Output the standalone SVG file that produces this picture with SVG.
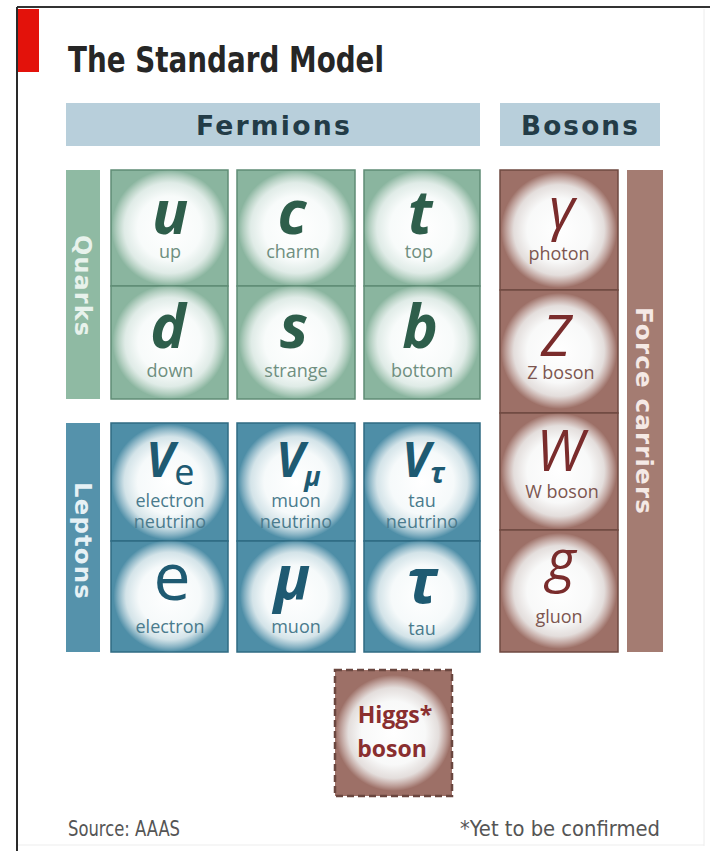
<svg xmlns="http://www.w3.org/2000/svg" width="710" height="851" viewBox="0 0 710 851">
<defs>
<radialGradient id="glow" cx="0.5" cy="0.5" r="0.5">
<stop offset="0" stop-color="#ffffff" stop-opacity="1"/>
<stop offset="0.55" stop-color="#fbfdfd" stop-opacity="0.97"/>
<stop offset="0.78" stop-color="#f5f9f9" stop-opacity="0.8"/>
<stop offset="0.92" stop-color="#ffffff" stop-opacity="0.3"/>
<stop offset="1" stop-color="#ffffff" stop-opacity="0"/>
</radialGradient>
<style>
.cond{font-family:"Liberation Sans Narrow","DejaVu Sans Condensed","Open Sans",sans-serif;font-stretch:condensed}
.title{font-size:36px;font-weight:bold;fill:#262626}
.hdr{font-size:27px;font-weight:bold;fill:#233c47;letter-spacing:2px}
.hbar{fill:#b8cfdb}
.side{font-size:23px;font-weight:bold;letter-spacing:1px}
.q{fill:#8ab59f;stroke:#5f8c75;stroke-width:1.5}
.l{fill:#4e8ea7;stroke:#2f6b83;stroke-width:1.5}
.b{fill:#9d7067;stroke:#6f4941;stroke-width:1.5}
.qbar{fill:#8fbaa3}
.lbar{fill:#5592ab}
.bbar{fill:#a47c72}
.sym{font-family:"Open Sans","DejaVu Sans",sans-serif;text-anchor:middle}
.qs{fill:#2e5e4b;font-size:60px;font-style:italic;font-weight:bold}
.ls{fill:#1e5a72;font-weight:bold;font-style:italic}
.bs{fill:#7a2c2c;font-style:italic;font-size:56px}
.lab{font-family:"Open Sans","DejaVu Sans",sans-serif;font-size:18px;text-anchor:middle}
.ql{fill:#6f8f80}
.ll{fill:#4a7b8d}
.bl{fill:#7d5650}
.foot{font-size:21px;fill:#555555}
</style>
</defs>
<rect width="710" height="851" fill="#ffffff"/>
<g id="frame">
<line x1="17" y1="7" x2="710" y2="7" stroke="#333333" stroke-width="2"/>
<line x1="17" y1="7" x2="17" y2="851" stroke="#2a2a2a" stroke-width="2"/>
<line x1="704" y1="9" x2="704" y2="846" stroke="#ececec" stroke-width="1"/>
<line x1="18" y1="845" x2="704" y2="845" stroke="#ededed" stroke-width="1"/>
<rect x="18" y="9" width="21" height="63" fill="#e3120b"/>
</g>
<text class="cond title" x="68" y="72" textLength="316" lengthAdjust="spacingAndGlyphs">The Standard Model</text>

<g id="fermions-header">
<rect class="hbar" x="66" y="103" width="414" height="43"/>
<text class="cond hdr" x="196" y="135" textLength="156" lengthAdjust="spacingAndGlyphs">Fermions</text>
</g>
<g id="bosons-header">
<rect class="hbar" x="500" y="103" width="160" height="43"/>
<text class="cond hdr" x="521" y="135" textLength="119" lengthAdjust="spacingAndGlyphs">Bosons</text>
</g>

<g id="quarks-label">
<rect class="qbar" x="66" y="170" width="34" height="229"/>
<text class="cond side" fill="#e8f2ec" text-anchor="middle" transform="translate(83,286) rotate(90)" dy="8" textLength="102" lengthAdjust="spacingAndGlyphs">Quarks</text>
</g>
<g id="leptons-label">
<rect class="lbar" x="66" y="423" width="34" height="229"/>
<text class="cond side" fill="#e6f1f5" text-anchor="middle" transform="translate(83,541) rotate(90)" dy="8" textLength="118" lengthAdjust="spacingAndGlyphs">Leptons</text>
</g>
<g id="force-carriers-label">
<rect class="bbar" x="627" y="170" width="36" height="482"/>
<text class="cond side" fill="#f5e9e5" text-anchor="middle" transform="translate(645,411) rotate(90)" dy="9" font-size="26" letter-spacing="0.5" textLength="208" lengthAdjust="spacingAndGlyphs">Force carriers</text>
</g>

<g id="up">
<rect class="q" x="111" y="170" width="117" height="116"/>
<circle cx="169.5" cy="228" r="58" fill="url(#glow)"/>
<text class="sym qs" x="170" y="234">u</text>
<text class="lab ql" x="170" y="258">up</text>
</g>
<g id="charm">
<rect class="q" x="237" y="170" width="118" height="116"/>
<circle cx="296" cy="228" r="58" fill="url(#glow)"/>
<text class="sym qs" x="292" y="234">c</text>
<text class="lab ql" x="293" y="258">charm</text>
</g>
<g id="top">
<rect class="q" x="364" y="170" width="116" height="116"/>
<circle cx="422" cy="228" r="58" fill="url(#glow)"/>
<text class="sym qs" x="420" y="234">t</text>
<text class="lab ql" x="419" y="258">top</text>
</g>
<g id="down">
<rect class="q" x="111" y="286" width="117" height="113"/>
<circle cx="169.5" cy="342" r="57" fill="url(#glow)"/>
<text class="sym qs" x="168" y="348">d</text>
<text class="lab ql" x="170" y="377">down</text>
</g>
<g id="strange">
<rect class="q" x="237" y="286" width="118" height="113"/>
<circle cx="296" cy="342" r="57" fill="url(#glow)"/>
<text class="sym qs" x="294" y="348">s</text>
<text class="lab ql" x="296" y="377">strange</text>
</g>
<g id="bottom">
<rect class="q" x="364" y="286" width="116" height="113"/>
<circle cx="422" cy="342" r="57" fill="url(#glow)"/>
<text class="sym qs" x="420" y="348">b</text>
<text class="lab ql" x="422" y="377">bottom</text>
</g>

<g id="electron-neutrino">
<rect class="l" x="111" y="423" width="117" height="118"/>
<circle cx="169.5" cy="482" r="58" fill="url(#glow)"/>
<text class="ls" font-family="Open Sans, DejaVu Sans, sans-serif" x="146" y="477" font-size="48">V<tspan font-style="normal" font-weight="normal" font-size="36" dy="8">e</tspan></text>
<text class="lab ll" x="170" y="507">electron</text>
<text class="lab ll" x="170" y="528">neutrino</text>
</g>
<g id="muon-neutrino">
<rect class="l" x="237" y="423" width="118" height="118"/>
<circle cx="296" cy="482" r="58" fill="url(#glow)"/>
<text class="ls" font-family="Open Sans, DejaVu Sans, sans-serif" x="276" y="477" font-size="48">V<tspan font-size="27" dy="9">μ</tspan></text>
<text class="lab ll" x="296" y="507">muon</text>
<text class="lab ll" x="296" y="528">neutrino</text>
</g>
<g id="tau-neutrino">
<rect class="l" x="364" y="423" width="116" height="118"/>
<circle cx="422" cy="482" r="58" fill="url(#glow)"/>
<text class="ls" font-family="Open Sans, DejaVu Sans, sans-serif" x="402" y="477" font-size="48">V<tspan font-size="29" dy="6">τ</tspan></text>
<text class="lab ll" x="422" y="507">tau</text>
<text class="lab ll" x="422" y="528">neutrino</text>
</g>
<g id="electron">
<rect class="l" x="111" y="541" width="117" height="111"/>
<circle cx="169.5" cy="596" r="56" fill="url(#glow)"/>
<text class="sym" fill="#1e5a72" x="172" y="600" font-size="66">e</text>
<text class="lab ll" x="170" y="633">electron</text>
</g>
<g id="muon">
<rect class="l" x="237" y="541" width="118" height="111"/>
<circle cx="296" cy="596" r="56" fill="url(#glow)"/>
<text class="sym ls" x="292" y="599" font-size="60">μ</text>
<text class="lab ll" x="296" y="633">muon</text>
</g>
<g id="tau">
<rect class="l" x="364" y="541" width="116" height="111"/>
<circle cx="422" cy="596" r="56" fill="url(#glow)"/>
<text class="sym ls" x="422" y="603" font-size="62">τ</text>
<text class="lab ll" x="422" y="635">tau</text>
</g>

<g id="photon">
<rect class="b" x="500" y="170" width="118" height="120"/>
<circle cx="559" cy="230" r="58" fill="url(#glow)"/>
<text class="sym bs" x="562" y="228">γ</text>
<text class="lab bl" x="559" y="260">photon</text>
</g>
<g id="z-boson">
<rect class="b" x="500" y="290" width="118" height="123"/>
<circle cx="559" cy="351" r="58" fill="url(#glow)"/>
<text class="sym bs" x="556" y="356">Z</text>
<text class="lab bl" x="561" y="379">Z boson</text>
</g>
<g id="w-boson">
<rect class="b" x="500" y="413" width="118" height="117"/>
<circle cx="559" cy="471" r="58" fill="url(#glow)"/>
<text class="sym bs" x="560" y="471">W</text>
<text class="lab bl" x="562" y="498">W boson</text>
</g>
<g id="gluon">
<rect class="b" x="500" y="530" width="118" height="122"/>
<circle cx="559" cy="591" r="58" fill="url(#glow)"/>
<text class="sym bs" x="561" y="580">g</text>
<text class="lab bl" x="559" y="623">gluon</text>
</g>

<g id="higgs-boson">
<rect x="335" y="670" width="117" height="126" fill="#9d7067" stroke="#6a463f" stroke-width="2.5" stroke-dasharray="7 4"/>
<circle cx="393.5" cy="733" r="58" fill="url(#glow)"/>
<text font-family="Open Sans, DejaVu Sans, sans-serif" font-weight="bold" font-size="23" fill="#8a2f2f" text-anchor="middle" x="395" y="723">Higgs*</text>
<text font-family="Open Sans, DejaVu Sans, sans-serif" font-weight="bold" font-size="23" fill="#8a2f2f" text-anchor="middle" x="392" y="757">boson</text>
</g>

<text class="cond foot" x="68" y="836" textLength="112" lengthAdjust="spacingAndGlyphs">Source: AAAS</text>
<text class="cond foot" x="460" y="836" textLength="200" lengthAdjust="spacingAndGlyphs">*Yet to be confirmed</text>
</svg>
